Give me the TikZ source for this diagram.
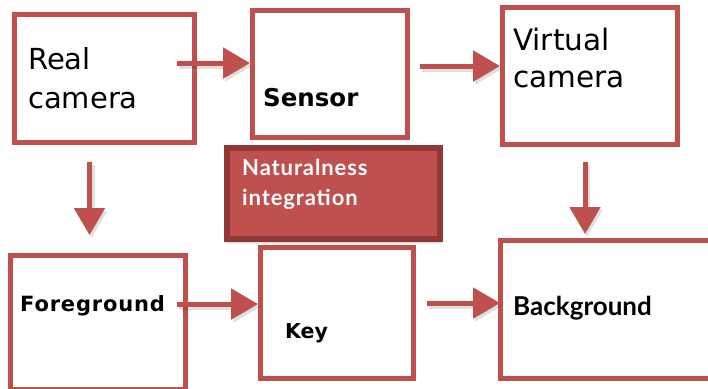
\documentclass[tikz,border=0pt]{standalone}
\usepackage{fontspec}
\setmainfont{DejaVu Sans}
\newfontfamily\gill{Lato}
\usetikzlibrary{arrows.meta,shadows.blur}
\definecolor{brick}{RGB}{192,80,77}
\definecolor{darkbrick}{RGB}{145,56,54}

\begin{document}
\begin{tikzpicture}
	[x=1pt,y=-1pt,
	box/.style={draw=brick,line width=5pt,fill=white,inner sep=0pt},
	flow/.style={draw=brick,line width=5pt,-{Triangle[length=27pt,width=30pt]},
		preaction={draw=black,opacity=.12,line width=6pt,transform canvas={shift={(2pt,-3pt)}}}},
	lbl/.style={inner sep=0pt,anchor=base west,align=left}]
	\useasboundingbox (0,0) rectangle (708,388);
	\clip (0,0) rectangle (708,388);

	% boxes
	\node[box,minimum width=180pt,minimum height=128pt] (real) at (104.5,78.5) {};
	\node[box,minimum width=155pt,minimum height=127pt] (sensor) at (330,74) {};
	\node[box,minimum width=175pt,minimum height=137pt] (virt) at (590,76) {};
	\node[box,minimum width=175pt,minimum height=134pt] (fore) at (98,322.5) {};
	\node[box,minimum width=153pt,minimum height=131pt] (key) at (337,313) {};
	\node[box,minimum width=211pt,minimum height=138pt] (back) at (606,309.5) {};
	\node[draw=darkbrick,fill=brick,line width=6pt,minimum width=213pt,minimum height=91pt,
		blur shadow={shadow xshift=1pt,shadow yshift=-3pt,shadow opacity=25,shadow blur radius=3pt}]
		(natural) at (333.5,193.5) {};

	% texts (base = last line)
	\node[lbl,font=\fontsize{29}{39}\selectfont] (realtxt) at (28,108) {Real\\camera};
	\node[lbl,font=\fontsize{29.5}{37}\selectfont] (virttxt) at (513,87) {Virtual\\camera};
	\node[lbl,font=\fontsize{24.5}{30}\selectfont\bfseries] (sensortxt) at (263,106) {Sensor};
	\node[lbl,font=\fontsize{21}{26}\selectfont\bfseries\addfontfeature{LetterSpace=4}] (foretxt) at (20,311) {Foreground};
	\node[lbl,font=\fontsize{20.5}{26}\selectfont\bfseries] (keytxt) at (285,338) {Key};
	\node[lbl,font=\gill\fontsize{26}{30}\selectfont\bfseries] (backtxt) at (513,315) {Background};
	\node[lbl,text=white,font=\gill\fontsize{22}{30}\selectfont\bfseries\addfontfeature{LetterSpace=4}] (naturaltxt) at (242,205) {Naturalness\\integration};

	% arrows
	\coordinate (s1) at (177,63);
	\coordinate (s2) at (420,66);
	\coordinate (s3) at (89.5,162);
	\coordinate (s4) at (585,162);
	\coordinate (s5) at (177,304);
	\coordinate (s6) at (427,303);
	\draw[flow] (s1) -- (s1 -| sensor.west);
	\draw[flow] (s2) -- (s2 -| virt.west);
	\draw[flow,shorten >=18pt] (s3) -- (s3 |- fore.north);
	\draw[flow,shorten >=4pt] (s4) -- (s4 |- back.north);
	\draw[flow] (s5) -- (s5 -| key.west);
	\draw[flow] (s6) -- ([xshift=2pt]s6 -| back.west);
\end{tikzpicture}
\end{document}
